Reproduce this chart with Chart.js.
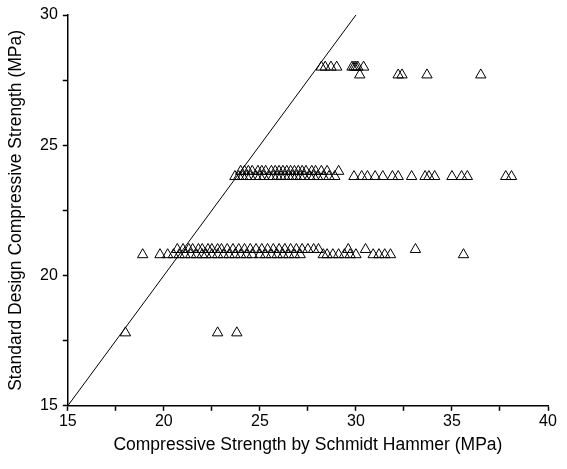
<!DOCTYPE html>
<html lang="en">
<head>
    <meta charset="UTF-8">
    <title>Schmidt Hammer vs Design Strength</title>
    <script src="https://cdn.jsdelivr.net/npm/chart.js"></script>
    <style>
        html, body { margin: 0; padding: 0; background: #fff; }
        #wrap { width: 567px; height: 469px; }
    </style>
</head>
<body>
    <div id="wrap"><canvas id="strengthChart"></canvas></div>

    <script>
        // Dữ liệu: mỗi mức cường độ thiết kế một mảng X
        const design28 = 28.0;
        const hammer28 = [28.2, 28.4, 28.7, 29.0, 29.8, 29.9, 30.0, 30.1, 30.4];
        const design277 = 27.7;
        const hammer277 = [30.2, 32.2, 32.4, 33.7, 36.5];

        const design24 = 24.0;
        const hammer24 = [24.0, 24.2, 24.4, 24.6, 24.9, 25.1, 25.3, 25.6, 25.8, 26.0, 26.2,
            26.4, 26.6, 26.8, 27.0, 27.2, 27.4, 27.7, 27.9, 28.2, 28.5, 29.1];
        const design238 = 23.8;
        const hammer238 = [23.7, 23.9, 24.1, 24.3, 24.5, 24.8, 25.0, 25.2, 25.5, 25.7, 25.9,
            26.1, 26.3, 26.5, 26.7, 26.9, 27.1, 27.3, 27.6, 27.8, 28.0, 28.3, 28.6, 28.9,
            29.9, 30.3, 30.6, 31.0, 31.4, 31.9, 32.2, 32.9, 33.6, 33.8, 34.1, 35.0, 35.5,
            35.8, 37.8, 38.1];

        const design21 = 21.0;
        const hammer21 = [20.7, 21.0, 21.3, 21.5, 21.8, 22.0, 22.3, 22.5, 22.8, 23.0, 23.3,
            23.6, 23.9, 24.2, 24.5, 24.8, 25.1, 25.4, 25.7, 26.0, 26.3, 26.6, 26.9, 27.2,
            27.5, 27.8, 28.05, 29.6, 30.5, 33.1];
        const design208 = 20.8;
        const hammer208 = [18.9, 19.8, 20.2, 20.5, 20.8, 21.1, 21.4, 21.7, 22.0, 22.2, 22.5,
            22.8, 23.1, 23.4, 23.7, 24.0, 24.3, 24.6, 25.0, 25.3, 25.6, 25.9, 26.2, 26.5,
            26.8, 27.1, 28.3, 28.5, 28.8, 29.1, 29.4, 29.7, 30.0, 30.9, 31.2, 31.5, 31.8, 35.6];

        const design178 = 17.8;
        const hammer178 = [18.0, 22.8, 23.8];

        // Đường 1:1
        const lineX = [15, 30];

        const xTitle = 'Compressive Strength by Schmidt Hammer (MPa)';
        const yTitle = 'Standard Design Compressive Strength (MPa)';

        function toPoints(xs, y) {
            return xs.map(x => ({ x: x, y: y }));
        }

        const points = []
            .concat(toPoints(hammer28, design28))
            .concat(toPoints(hammer277, design277))
            .concat(toPoints(hammer24, design24))
            .concat(toPoints(hammer238, design238))
            .concat(toPoints(hammer21, design21))
            .concat(toPoints(hammer208, design208))
            .concat(toPoints(hammer178, design178));

        const font = 'Liberation Sans, Arial, sans-serif';

        function majorOnly(value) {
            return value % 5 === 0 ? value : '';
        }

        const ctx = document.getElementById('strengthChart').getContext('2d');
        const strengthChart = new Chart(ctx, {
            type: 'scatter',
            data: {
                datasets: [{
                    data: points,
                    pointStyle: 'triangle',
                    pointRadius: 6,
                    pointBackgroundColor: 'rgba(255,255,255,0)',
                    pointBorderColor: '#000',
                    pointBorderWidth: 1
                }, {
                    type: 'line',
                    data: lineX.map(v => ({ x: v, y: v })),
                    borderColor: '#000',
                    borderWidth: 1,
                    pointRadius: 0,
                    fill: false
                }]
            },
            options: {
                responsive: true,
                maintainAspectRatio: false,
                animation: false,
                layout: { padding: { top: 15, right: 19, left: 6, bottom: 13 } },
                plugins: {
                    legend: { display: false },
                    tooltip: { enabled: false }
                },
                scales: {
                    x: {
                        type: 'linear',
                        min: 15,
                        max: 40,
                        ticks: {
                            stepSize: 2.5,
                            callback: majorOnly,
                            color: '#000',
                            font: { family: font, size: 16 },
                            padding: 1,
                            maxRotation: 0
                        },
                        grid: { drawOnChartArea: false, tickLength: 5, color: '#000', tickWidth: 1.5 },
                        border: { color: '#000', width: 1.5 },
                        title: {
                            display: true,
                            text: xTitle,
                            color: '#000',
                            font: { family: font, size: 17.5 },
                            padding: { top: 3, bottom: 0 }
                        }
                    },
                    y: {
                        type: 'linear',
                        min: 15,
                        max: 30,
                        ticks: {
                            stepSize: 2.5,
                            callback: majorOnly,
                            color: '#000',
                            font: { family: font, size: 16 },
                            padding: 5
                        },
                        grid: { drawOnChartArea: false, tickLength: 5, color: '#000', tickWidth: 1.5 },
                        border: { color: '#000', width: 1.5 },
                        title: {
                            display: true,
                            text: yTitle,
                            color: '#000',
                            font: { family: font, size: 17.5 },
                            padding: { top: 0, bottom: 8 }
                        }
                    }
                }
            }
        });
    </script>
</body>
</html>
